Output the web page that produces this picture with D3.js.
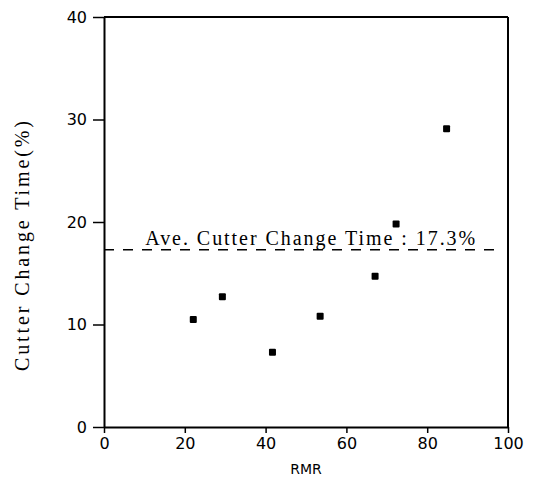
<!DOCTYPE html>
<html lang="en">
<head>
  <meta charset="UTF-8" />
  <title>Cutter Change Time vs RMR</title>
  <script src="https://d3js.org/d3.v7.min.js"></script>
  <style>
    body {
      margin: 0;
      background-color: #fff;
    }
    svg {
      display: block;
    }
    .tick text {
      font-family: 'DejaVu Sans', 'Liberation Sans', sans-serif;
      font-size: 16px;
      fill: #000;
    }
  </style>
</head>
<body>
  <svg width="534" height="482"></svg>
  <script>
    // data
    const rmr = [22.1, 29.3, 41.7, 53.5, 67.1, 72.3, 84.8];
    const changeTime = [10.5, 12.7, 7.3, 10.8, 14.7, 19.8, 29.1];
    const average = 17.3;
    const xTicks = [0, 20, 40, 60, 80, 100];
    const yTicks = [0, 10, 20, 30, 40];

    const svg = d3.select("svg");

    const x = d3.scaleLinear().domain([0, 100]).range([104, 508]);
    const y = d3.scaleLinear().domain([0, 40]).range([427, 17]);

    // bottom axis
    const xAxis = svg.append("g")
      .attr("transform", `translate(0,${y(0)})`)
      .call(d3.axisBottom(x).tickValues(xTicks).tickSize(6).tickSizeOuter(0).tickPadding(5));
    xAxis.select(".domain").attr("stroke-width", 2);
    xAxis.selectAll(".tick line").attr("stroke-width", 1.5);

    // left axis
    const yAxis = svg.append("g")
      .attr("transform", `translate(${x(0)},0)`)
      .call(d3.axisLeft(y).tickValues(yTicks).tickSize(11).tickSizeOuter(0).tickPadding(6));
    yAxis.select(".domain").attr("stroke-width", 2);
    yAxis.selectAll(".tick line").attr("stroke-width", 1.5);

    // top and right frame
    svg.append("line")
      .attr("x1", x(0)).attr("x2", x(100))
      .attr("y1", y(40)).attr("y2", y(40))
      .attr("stroke", "#000").attr("stroke-width", 2);
    svg.append("line")
      .attr("x1", x(100)).attr("x2", x(100))
      .attr("y1", y(40)).attr("y2", y(0))
      .attr("stroke", "#000").attr("stroke-width", 2);

    // average line
    svg.append("line")
      .attr("x1", x(0)).attr("x2", x(98))
      .attr("y1", y(average)).attr("y2", y(average))
      .attr("stroke", "#000").attr("stroke-width", 1.6)
      .attr("stroke-dasharray", "10,9");

    svg.append("text")
      .attr("x", x(10.2))
      .attr("y", y(average) - 5)
      .attr("textLength", 330)
      .attr("lengthAdjust", "spacing")
      .style("font-family", "'Liberation Serif', 'Times New Roman', serif")
      .style("font-size", "20px")
      .text("Ave. Cutter Change Time : 17.3%");

    // points
    svg.selectAll(".pt")
      .data(rmr)
      .enter()
      .append("rect")
      .attr("class", "pt")
      .attr("x", d => x(d) - 3.5)
      .attr("y", (d, i) => y(changeTime[i]) - 3.5)
      .attr("width", 7)
      .attr("height", 7)
      .attr("rx", 1)
      .attr("fill", "#000");

    // axis titles
    svg.append("text")
      .attr("x", x(50))
      .attr("y", 474)
      .attr("text-anchor", "middle")
      .style("font-family", "'DejaVu Sans', 'Liberation Sans', sans-serif")
      .style("font-size", "14px")
      .text("RMR");

    svg.append("text")
      .attr("transform", `translate(29,${246}) rotate(-90)`)
      .attr("text-anchor", "middle")
      .attr("textLength", 250)
      .attr("lengthAdjust", "spacing")
      .style("font-family", "'Liberation Serif', 'Times New Roman', serif")
      .style("font-size", "20px")
      .text("Cutter Change Time(%)");
  </script>
</body>
</html>
